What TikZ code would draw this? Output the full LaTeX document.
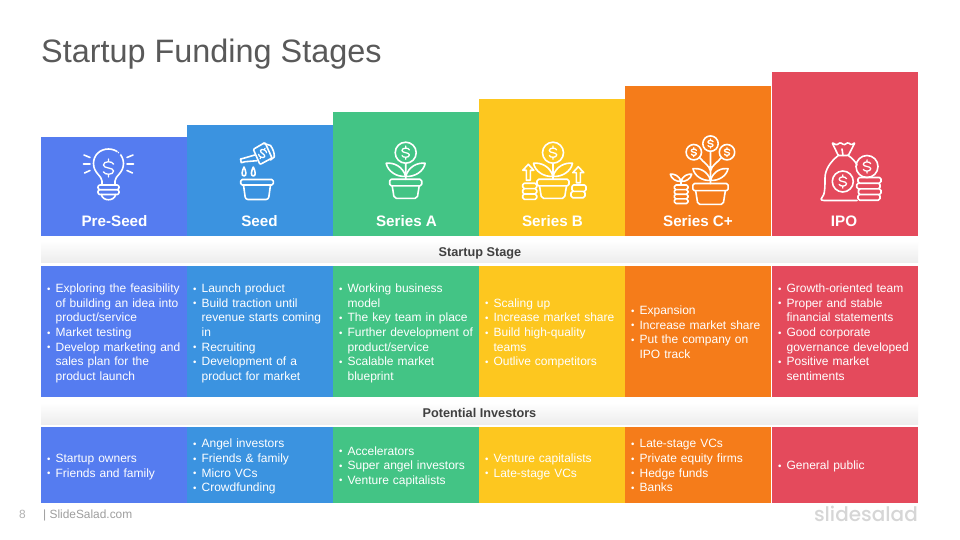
\documentclass[tikz,border=0pt]{standalone}
\usepackage{fontspec}
\usepackage{graphicx}
\setmainfont{Liberation Sans}
\newfontfamily\logofont[UprightFont=* Medium]{Poppins}
\definecolor{cA}{HTML}{557CF0}
\definecolor{cB}{HTML}{3B93E0}
\definecolor{cC}{HTML}{43C485}
\definecolor{cD}{HTML}{FDC71F}
\definecolor{cE}{HTML}{F57C1A}
\definecolor{cF}{HTML}{E44A5C}
\definecolor{titlegray}{HTML}{595959}
\definecolor{bandgray}{HTML}{EDEDED}
\newcommand{\bl}{\makebox[8.6pt][l]{\raisebox{.5pt}{\scalebox{.8}{•}}}}
\newcommand{\cl}{\hspace*{8.6pt}}
\newcommand{\rr}[1]{\mbox{#1}}
\tikzset{
  x=1pt,y=-1pt,
  head/.style={anchor=south west,inner sep=0,outer sep=0,minimum width=146.3pt},
  stagelabel/.style={text=white,font=\fontsize{15.2}{18}\selectfont\bfseries,inner sep=0},
  cell/.style={anchor=north west,inner xsep=6pt,inner ysep=0,outer sep=0,minimum width=146.3pt,text width=134.3pt,align=left,text=white,font=\fontsize{12}{14.6}\selectfont,execute at begin node={\rule{0pt}{13pt}},execute at end node={\rule[-3pt]{0pt}{0pt}}},
  band/.style={anchor=north west,inner sep=0,outer sep=0,minimum width=877pt,top color=white,bottom color=bandgray},
  bandlabel/.style={anchor=base,inner sep=0,text=black!75,font=\fontsize{12.7}{14}\selectfont\bfseries},
  ico/.style={draw=white,line width=1.6pt,line join=round,line cap=round},
  dollarmark/.pic={\draw[ico,line width=1.3pt] (3.4,-2.5) .. controls (2.8,-4.8) and (-3.4,-4.8) .. (-3.4,-2) .. controls (-3.4,0.5) and (3.4,-0.5) .. (3.4,2) .. controls (3.4,4.8) and (-2.8,4.8) .. (-3.4,2.5) (0,-4.2)--(0,-6) (0,4.2)--(0,6);},
  potbody/.pic={\draw[ico,rounded corners=1.6pt] (-16,0) rectangle (16,6.5);
    \draw[ico,rounded corners=2pt] (-13.5,6.5) -- (-11.5,19) -- (11.5,19) -- (13.5,6.5);},
  twoleaves/.pic={\draw[ico] (0,-3) .. controls (-3,-13) and (-12,-17) .. (-19.5,-16) .. controls (-18,-8) and (-9,-2) .. (0,-3)
    (0,-3) .. controls (3,-13) and (12,-17) .. (19.5,-16) .. controls (18,-8) and (9,-2) .. (0,-3);},
  potplant/.pic={\pic {potbody}; \pic {twoleaves};
    \draw[ico] (0,-26.6) circle[radius=10.5pt] (0,-16)--(0,0);
    \pic[scale=1.1] at (0,-26.6) {dollarmark};},
  coinlayer/.style={ico,rounded corners=1.6pt},
  uparrow/.pic={\draw[ico] (-2,16)--(-2,6)--(-5.5,6)--(0,0)--(5.5,6)--(2,6)--(2,16)--cycle;}
}
\begin{document}
\begin{tikzpicture}
\useasboundingbox (0,0) rectangle (960,540);
\fill[white] (0,0) rectangle (960,540);
\node[anchor=base west,inner sep=0,text=titlegray,font=\fontsize{32.4}{38}\selectfont] (title) at (41,63) {Startup Funding Stages};

% stage heads
\node[head,fill=cA,minimum height=99pt] (h1) at (41,236) {};
\node[head,fill=cB,minimum height=111pt] (h2) at (187,236) {};
\node[head,fill=cC,minimum height=124pt] (h3) at (333,236) {};
\node[head,fill=cD,minimum height=137pt] (h4) at (479,236) {};
\node[head,fill=cE,minimum height=150pt] (h5) at (625,236) {};
\node[head,fill=cF,minimum height=164pt,minimum width=146pt] (h6) at (772,236) {};
\node[stagelabel] (l1) at (114.5,221) {Pre-Seed};
\node[stagelabel] (l2) at (259.5,221) {Seed};
\node[stagelabel] (l3) at (406.5,221) {Series A};
\node[stagelabel] (l4) at (552.5,221) {Series B};
\node[stagelabel] (l5) at (698,221) {Series C+};
\node[stagelabel] (l6) at (844,221) {IPO};

% bulb
\draw[ico] (102,181) .. controls (102,176) and (93.5,173) .. (93.5,163.5) .. controls (93.5,155) and (100,149) .. (108.5,149) .. controls (116.5,149) and (123.5,155) .. (123.5,163.5) .. controls (123.5,173) and (115,176) .. (115,181) (102,181) -- (102,185) (115,181) -- (115,185);
\fill[cA] (118.6,153.4) circle[radius=2.2pt];
\fill[white] (118.4,152.6) circle[radius=.8pt];
\draw[ico,rounded corners=2pt] (98,185) rectangle (119,189.7) (98,189.7) rectangle (119,194.5);
\draw[ico] (101.5,194.5) .. controls (102,201.5) and (115,201.5) .. (115.5,194.5);
\draw[ico] (84,155)--(90,157.5) (83.5,164)--(90,164) (84.5,173)--(90,170.5) (133,155)--(127,157.5) (133.5,164)--(127,164) (132.5,173)--(127,170.5);
\pic[scale=1.5] at (108.5,168) {dollarmark};

% watering can
\draw[ico,rounded corners=1pt] (253.3,149.3)--(265,142.5)--(272,158)--(260,164.5)--cycle;
\draw[ico] (263.3,143.3) -- (270.5,145.5) .. controls (273,149) and (274.5,153) .. (274.3,157) -- (270.5,160);
\draw[ico] (254.8,155) -- (243.5,158.3) -- (240.5,159) -- (241.3,162.7) -- (245,161.7) -- (257,160.7);
\pic[scale=.95,rotate=-25] at (262.6,153.5) {dollarmark};
\draw[ico] (244,167) .. controls (242,171) and (241,176) .. (244,176) .. controls (247,176) and (246,171) .. (244,167);
\draw[ico] (253.3,167) .. controls (251.3,171) and (250.3,176) .. (253.3,176) .. controls (256.3,176) and (255.3,171) .. (253.3,167);
\draw[ico,rounded corners=1.6pt] (240.7,179.5) rectangle (273.3,185);
\draw[ico,rounded corners=2.5pt] (243.5,185) -- (245.5,199.5) -- (268.5,199.5) -- (270.5,185);

% Series A
\pic at (405.7,179.3) {potplant};

% Series B
\pic at (553,179.3) {potplant};
\pic at (528.3,164.3) {uparrow};
\pic at (578.3,166.7) {uparrow};
\draw[coinlayer] (522.7,183.3) rectangle (536.7,188.6) (522.7,188.6) rectangle (536.7,194) (522.7,194) rectangle (536.7,199.3);
\draw[coinlayer] (572,185) rectangle (586,191.3) (571,191.3) rectangle (585,197.7);

% Series C+
\pic[scale=1.1] at (710.5,183.5) {potbody};
\draw[ico] (710.5,143.6) circle[radius=7.7pt] (693.8,152.2) circle[radius=7.7pt] (727,152.2) circle[radius=7.7pt];
\draw[ico] (710.5,151.3)--(710.5,183.5) (699.5,157.5) .. controls (704,163) and (709,165) .. (710.5,171) (721.5,157.5) .. controls (717,163) and (712,165) .. (710.5,171);
\pic[scale=.9] at (710.5,183) {twoleaves};
\pic[scale=.75] at (710.5,143.6) {dollarmark};
\pic[scale=.75] at (693.8,152.2) {dollarmark};
\pic[scale=.75] at (727,152.2) {dollarmark};
\draw[coinlayer] (674.3,185) rectangle (688,189.6) (674.3,189.6) rectangle (688,194.2) (674.3,194.2) rectangle (688,198.8) (674.3,198.8) rectangle (688,203.5);
\draw[ico] (681,185)--(681,179);
\pic[scale=.55] at (681,183) {twoleaves};

% IPO
\draw[ico,rounded corners=1pt] (838.3,155.5) -- (832,142.5) -- (836.5,145) -- (840.5,142.5) -- (844,145) -- (848,142.5) -- (851.5,145) -- (855,142.5) -- (848.3,155.5) -- cycle;
\draw[ico] (843,155.5) -- (842,149);
\draw[ico] (838.3,155.5) .. controls (830,162) and (825,170) .. (825,178) .. controls (825,186) and (825,195) .. (822,197.5) .. controls (820,200) and (822,200.5) .. (824,200.5) -- (857,200.5);
\draw[ico] (848.3,155.5) .. controls (852,158) and (855,161) .. (857,165);
\draw[ico] (842.8,181.5) circle[radius=10.5pt] (867,166.5) circle[radius=11pt];
\pic[scale=1.1] at (842.8,181.5) {dollarmark};
\pic[scale=1.1] at (867,166.5) {dollarmark};
\draw[coinlayer] (858,177.5) rectangle (881,183.2) (856.7,183.2) rectangle (880,188.8) (858.5,188.8) rectangle (881,194.5) (858,194.5) rectangle (880,200.2);

% bands
\node[band,minimum height=21.5pt] (b1) at (41,240.5) {};
\node[band,minimum height=21.5pt] (b2) at (41,402.5) {};
\node[bandlabel] (b1t) at (480,256.5) {Startup Stage};
\node[bandlabel] (b2t) at (479.5,417) {Potential Investors};

% description row
\node[cell,fill=cA,minimum height=131pt] (d1) at (41,266) {\bl\rr{Exploring the feasibility}\\\cl\rr{of building an idea into}\\\cl\rr{product/service}\\\bl\rr{Market testing}\\\bl\rr{Develop marketing and}\\\cl\rr{sales plan for the}\\\cl\rr{product launch}};
\node[cell,fill=cB,minimum height=131pt] (d2) at (187,266) {\bl\rr{Launch product}\\\bl\rr{Build traction until}\\\cl\rr{revenue starts coming}\\\cl\rr{in}\\\bl\rr{Recruiting}\\\bl\rr{Development of a}\\\cl\rr{product for market}};
\node[cell,fill=cC,minimum height=131pt] (d3) at (333,266) {\bl\rr{Working business}\\\cl\rr{model}\\\bl\rr{The key team in place}\\\bl\rr{Further development of}\\\cl\rr{product/service}\\\bl\rr{Scalable market}\\\cl\rr{blueprint}};
\node[cell,fill=cD,minimum height=131pt] (d4) at (479,266) {\bl\rr{Scaling up}\\\bl\rr{Increase market share}\\\bl\rr{Build high-quality}\\\cl\rr{teams}\\\bl\rr{Outlive competitors}};
\node[cell,fill=cE,minimum height=131pt] (d5) at (625,266) {\bl\rr{Expansion}\\\bl\rr{Increase market share}\\\bl\rr{Put the company on}\\\cl\rr{IPO track}};
\node[cell,fill=cF,minimum height=131pt,minimum width=146pt] (d6) at (772,266) {\bl\rr{Growth-oriented team}\\\bl\rr{Proper and stable}\\\cl\rr{financial statements}\\\bl\rr{Good corporate}\\\cl\rr{governance developed}\\\bl\rr{Positive market}\\\cl\rr{sentiments}};

% investor row
\node[cell,fill=cA,minimum height=75.7pt] (i1) at (41,427) {\bl\rr{Startup owners}\\\bl\rr{Friends and family}};
\node[cell,fill=cB,minimum height=75.7pt] (i2) at (187,427) {\bl\rr{Angel investors}\\\bl\rr{Friends \& family}\\\bl\rr{Micro VCs}\\\bl\rr{Crowdfunding}};
\node[cell,fill=cC,minimum height=75.7pt] (i3) at (333,427) {\bl\rr{Accelerators}\\\bl\rr{Super angel investors}\\\bl\rr{Venture capitalists}};
\node[cell,fill=cD,minimum height=75.7pt] (i4) at (479,427) {\bl\rr{Venture capitalists}\\\bl\rr{Late-stage VCs}};
\node[cell,fill=cE,minimum height=75.7pt] (i5) at (625,427) {\bl\rr{Late-stage VCs}\\\bl\rr{Private equity firms}\\\bl\rr{Hedge funds}\\\bl\rr{Banks}};
\node[cell,fill=cF,minimum height=75.7pt,minimum width=146pt] (i6) at (772,427) {\bl\rr{General public}};

% footer
\node[anchor=base west,inner sep=0,text=black!30,font=\fontsize{11.9}{14}\selectfont] (pg) at (19,518.5) {8};
\node[anchor=base west,inner sep=0,text=black!38,font=\fontsize{11.9}{14}\selectfont] (site) at (43,518.5) {| SlideSalad.com};
\node[anchor=base east,inner sep=0,text=black!16,font=\logofont\fontsize{20}{24}\selectfont] (logo) at (918,521) {slidesalad};
\end{tikzpicture}
\end{document}
